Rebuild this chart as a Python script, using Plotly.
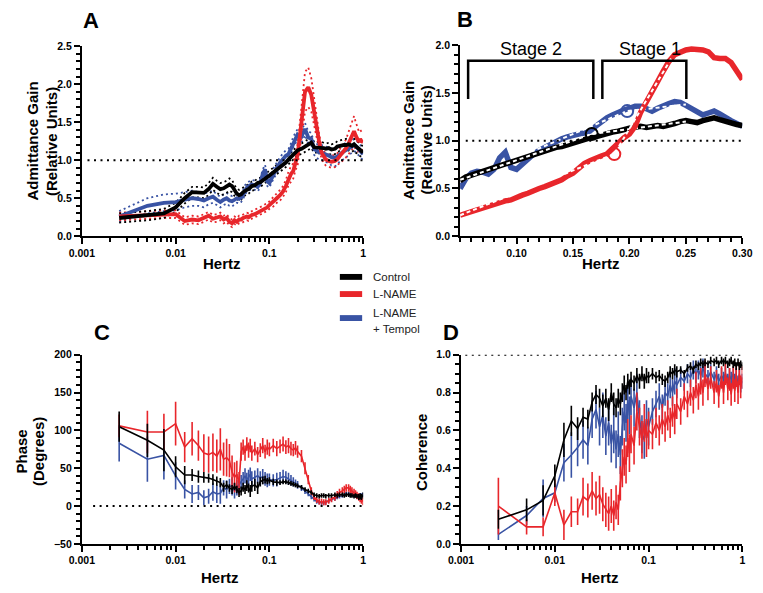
import plotly.graph_objects as go

# ---------------- data ----------------
FREQ = [0.0025, 0.005, 0.0075, 0.01, 0.0125, 0.015, 0.0175, 0.02, 0.0225, 0.025, 0.0275, 0.03, 0.0325, 0.035, 0.0375, 0.04, 0.0425, 0.045, 0.0475, 0.05,
        0.0525, 0.055, 0.0575, 0.06, 0.0625, 0.065, 0.07, 0.075, 0.08, 0.085, 0.09, 0.095, 0.1,
        0.11, 0.12, 0.13, 0.14, 0.15, 0.16, 0.17, 0.18, 0.19, 0.2,
        0.22, 0.24, 0.26, 0.28, 0.3, 0.32, 0.34, 0.36, 0.38, 0.4,
        0.43, 0.46, 0.5, 0.53, 0.56, 0.6, 0.63, 0.66, 0.7, 0.73, 0.76, 0.8, 0.83, 0.86, 0.9, 0.93, 0.96, 1.0]

# Panel A: admittance gain (mean, SEM)
CTRL_GAIN = [0.24, 0.27, 0.30, 0.38, 0.50, 0.58, 0.58, 0.57, 0.62, 0.69, 0.65, 0.62, 0.63, 0.65, 0.68, 0.66, 0.60, 0.56, 0.54, 0.55,
             0.58, 0.60, 0.61, 0.62, 0.64, 0.66, 0.67, 0.70, 0.71, 0.74, 0.76, 0.78, 0.80,
             0.84, 0.87, 0.91, 0.94, 0.97, 1.01, 1.04, 1.07, 1.10, 1.13,
             1.15, 1.18, 1.20, 1.23, 1.17, 1.17, 1.16, 1.17, 1.16, 1.15,
             1.16, 1.14, 1.15, 1.18, 1.19, 1.19, 1.20, 1.20, 1.21, 1.20, 1.19, 1.21, 1.18, 1.17, 1.15, 1.13, 1.12, 1.10]
CTRL_GAIN_SEM = [0.06, 0.06, 0.06, 0.06, 0.07, 0.07, 0.07, 0.07, 0.08, 0.08, 0.08, 0.08, 0.08, 0.08, 0.08, 0.08, 0.07, 0.07, 0.07, 0.07,
                 0.06, 0.06, 0.06, 0.06, 0.06, 0.06, 0.06, 0.06, 0.06, 0.06, 0.06, 0.06, 0.06,
                 0.06, 0.06, 0.06, 0.06, 0.06, 0.06, 0.06, 0.06, 0.06, 0.06,
                 0.07, 0.07, 0.07, 0.07, 0.07, 0.07, 0.07, 0.07, 0.07, 0.07,
                 0.07, 0.07, 0.07, 0.07, 0.07, 0.08, 0.08, 0.08, 0.08, 0.08, 0.08, 0.08, 0.08, 0.08, 0.08, 0.08, 0.08, 0.08]
TEMPOL_GAIN = [0.26, 0.40, 0.44, 0.45, 0.48, 0.50, 0.49, 0.47, 0.50, 0.52, 0.48, 0.45, 0.48, 0.50, 0.47, 0.46, 0.48, 0.50, 0.49, 0.51,
               0.55, 0.61, 0.64, 0.66, 0.67, 0.68, 0.67, 0.65, 0.70, 0.82, 0.88, 0.72, 0.70,
               0.82, 0.90, 0.97, 1.02, 1.06, 1.08, 1.15, 1.24, 1.30, 1.34,
               1.31, 1.41, 1.30, 1.28, 1.15, 1.12, 1.10, 1.10, 1.09, 1.08,
               1.06, 1.04, 1.03, 1.05, 1.08, 1.10, 1.12, 1.14, 1.16, 1.17, 1.18, 1.20, 1.19, 1.17, 1.14, 1.12, 1.10, 1.08]
TEMPOL_GAIN_SEM = [0.07, 0.10, 0.11, 0.11, 0.10, 0.10, 0.09, 0.09, 0.08, 0.08, 0.07, 0.07, 0.07, 0.07, 0.07, 0.07, 0.06, 0.06, 0.06, 0.06,
                   0.06, 0.06, 0.06, 0.06, 0.06, 0.06, 0.06, 0.06, 0.06, 0.06, 0.06, 0.06, 0.06,
                   0.07, 0.07, 0.07, 0.07, 0.07, 0.07, 0.07, 0.07, 0.07, 0.07,
                   0.08, 0.08, 0.08, 0.08, 0.08, 0.09, 0.10, 0.10, 0.10, 0.10,
                   0.10, 0.11, 0.11, 0.11, 0.10, 0.10, 0.10, 0.09, 0.09, 0.09, 0.08, 0.08, 0.08, 0.08, 0.08, 0.08, 0.08, 0.08]
LNAME_GAIN = [0.26, 0.28, 0.29, 0.29, 0.20, 0.22, 0.21, 0.24, 0.27, 0.23, 0.24, 0.26, 0.22, 0.24, 0.19, 0.17, 0.21, 0.19, 0.22, 0.22,
              0.24, 0.25, 0.26, 0.25, 0.27, 0.28, 0.29, 0.31, 0.33, 0.35, 0.37, 0.38, 0.41,
              0.45, 0.50, 0.54, 0.59, 0.66, 0.76, 0.82, 0.86, 0.99, 1.07,
              1.50, 1.90, 1.96, 1.86, 1.64, 1.42, 1.24, 1.10, 1.04, 1.01,
              0.99, 0.98, 0.99, 1.01, 1.05, 1.09, 1.12, 1.16, 1.22, 1.28, 1.32, 1.38, 1.33, 1.30, 1.24, 1.28, 1.25, 1.24]
LNAME_GAIN_SEM = [0.05, 0.05, 0.05, 0.05, 0.05, 0.05, 0.05, 0.05, 0.05, 0.05, 0.05, 0.05, 0.05, 0.05, 0.05, 0.05, 0.05, 0.05, 0.05, 0.05,
                  0.05, 0.05, 0.05, 0.05, 0.05, 0.05, 0.05, 0.05, 0.05, 0.05, 0.05, 0.05, 0.05,
                  0.06, 0.06, 0.07, 0.07, 0.08, 0.09, 0.10, 0.10, 0.12, 0.14,
                  0.20, 0.26, 0.26, 0.22, 0.18, 0.14, 0.10, 0.08, 0.08, 0.08,
                  0.08, 0.08, 0.08, 0.08, 0.09, 0.10, 0.11, 0.12, 0.14, 0.16, 0.18, 0.20, 0.18, 0.16, 0.14, 0.12, 0.12, 0.10]

# Panel B: admittance gain, linear zoom 0.05-0.30 Hz
FREQ_B = [0.050, 0.055, 0.060, 0.065, 0.070, 0.075, 0.080, 0.085, 0.090, 0.095,
          0.100, 0.105, 0.110, 0.115, 0.120, 0.125, 0.130, 0.135, 0.140, 0.145,
          0.150, 0.155, 0.160, 0.165, 0.170, 0.175, 0.180, 0.185, 0.190, 0.195,
          0.200, 0.205, 0.210, 0.215, 0.220, 0.225, 0.230, 0.235, 0.240, 0.245,
          0.250, 0.255, 0.260, 0.265, 0.270, 0.275, 0.280, 0.285, 0.290, 0.295, 0.300]
CTRL_B = [0.58, 0.62, 0.64, 0.66, 0.67, 0.70, 0.71, 0.74, 0.76, 0.78,
          0.80, 0.81, 0.84, 0.86, 0.87, 0.89, 0.91, 0.93, 0.94, 0.96,
          0.97, 0.99, 1.01, 1.03, 1.04, 1.06, 1.07, 1.09, 1.10, 1.12,
          1.13, 1.14, 1.15, 1.14, 1.15, 1.16, 1.15, 1.16, 1.18, 1.20,
          1.21, 1.20, 1.19, 1.21, 1.23, 1.24, 1.22, 1.20, 1.19, 1.17, 1.16]
TEMPOL_B = [0.50, 0.60, 0.66, 0.68, 0.67, 0.65, 0.70, 0.82, 0.88, 0.72,
            0.70, 0.76, 0.82, 0.86, 0.90, 0.93, 0.97, 1.00, 1.02, 1.04,
            1.06, 1.07, 1.08, 1.10, 1.15, 1.20, 1.24, 1.27, 1.30, 1.32,
            1.34, 1.36, 1.36, 1.33, 1.31, 1.34, 1.37, 1.39, 1.41, 1.40,
            1.37, 1.34, 1.30, 1.27, 1.29, 1.31, 1.28, 1.24, 1.21, 1.18, 1.15]
LNAME_B = [0.22, 0.24, 0.25, 0.27, 0.29, 0.31, 0.33, 0.35, 0.37, 0.38,
           0.41, 0.43, 0.45, 0.48, 0.50, 0.52, 0.54, 0.56, 0.59, 0.63,
           0.66, 0.71, 0.76, 0.79, 0.82, 0.84, 0.86, 0.92, 0.99, 1.03,
           1.07, 1.15, 1.30, 1.40, 1.50, 1.62, 1.73, 1.83, 1.90, 1.93,
           1.95, 1.96, 1.96, 1.95, 1.93, 1.87, 1.86, 1.86, 1.82, 1.73, 1.64]
# two-stage linear fits (start, breakpoint, end)
CTRL_FIT_X = [0.05, 0.1666, 0.25]
CTRL_FIT_Y = [0.59, 1.07, 1.20]
TEMPOL_FIT_X = [0.05, 0.198, 0.25]
TEMPOL_FIT_Y = [0.57, 1.31, 1.38]
LNAME_FIT_X = [0.05, 0.1866, 0.237]
LNAME_FIT_Y = [0.22, 0.86, 1.86]
STAGES = ["Stage 2", "Stage 1"]
STAGE_X0 = [0.0571, 0.176]
STAGE_X1 = [0.168, 0.2504]

# Panel C: phase (degrees, mean +/- SEM)
CTRL_PHASE = [105, 87, 74, 52, 41, 41, 39, 38, 37, 35, 33, 31, 25, 28, 24, 22, 26, 22, 18, 20,
              25, 22, 27, 24, 20, 26, 28, 24, 32, 34, 35, 33, 34,
              32, 31, 31, 32, 32, 31, 30, 29, 28, 27,
              25, 22, 20, 18, 15, 14, 13, 14, 14, 13,
              14, 14, 15, 14, 15, 15, 14, 15, 15, 14, 14, 13, 14, 13, 12, 13, 12, 14]
CTRL_PHASE_ERR = [20, 22, 28, 14, 12, 8, 8, 7, 6, 7, 6, 6, 6, 5, 5, 6, 5, 5, 6, 6,
                  6, 6, 7, 6, 8, 7, 8, 8, 6, 5, 5, 4, 4,
                  4, 4, 3, 3, 3, 3, 3, 3, 3, 3,
                  3, 3, 3, 3, 3, 3, 3, 3, 3, 3,
                  3, 3, 3, 3, 3, 3, 3, 3, 3, 3, 3, 3, 3, 3, 4, 4, 4, 4]
LNAME_PHASE = [106, 98, 98, 109, 78, 89, 80, 70, 68, 71, 66, 75, 62, 64, 60, 45, 38, 42, 30, 72,
               78, 70, 82, 74, 80, 70, 76, 68, 74, 80, 72, 78, 75,
               80, 76, 79, 82, 78, 80, 76, 74, 77, 72,
               66, 50, 35, 20, 12, 8, 6, 6, 5, 5,
               7, 9, 12, 15, 18, 20, 22, 24, 24, 22, 20, 18, 16, 14, 12, 10, 8, 6]
LNAME_PHASE_ERR = [15, 28, 24, 29, 20, 22, 20, 25, 24, 25, 22, 28, 22, 25, 22, 22, 20, 18, 15, 12,
                   10, 10, 9, 10, 9, 10, 9, 10, 9, 10, 9, 10, 9,
                   9, 10, 9, 10, 9, 10, 9, 8, 9, 8,
                   8, 8, 6, 5, 4, 4, 4, 4, 4, 4,
                   4, 4, 5, 5, 5, 5, 5, 5, 5, 5, 5, 5, 5, 5, 5, 5, 5, 5]
TEMPOL_PHASE = [83, 62, 67, 40, 22, 16, 18, 11, 13, 19, 16, 17, 24, 22, 26, 26, 20, 24, 28, 32,
                36, 40, 35, 38, 42, 36, 38, 40, 37, 39, 36, 34, 35,
                34, 35, 37, 39, 38, 36, 34, 32, 30, 28,
                24, 20, 16, 12, 9, 6, 5, 4, 4, 5,
                7, 9, 10, 12, 13, 14, 15, 16, 16, 15, 15, 14, 14, 13, 13, 14, 14, 15]
TEMPOL_PHASE_ERR = [24, 30, 32, 18, 12, 12, 10, 10, 10, 12, 12, 14, 10, 12, 10, 12, 10, 10, 9, 9,
                    9, 10, 9, 10, 9, 10, 9, 10, 9, 10, 9, 9, 8,
                    8, 9, 8, 9, 8, 8, 7, 6, 5, 5,
                    4, 4, 3, 3, 3, 3, 3, 3, 3, 3,
                    3, 3, 3, 3, 3, 3, 3, 3, 3, 3, 3, 3, 3, 3, 3, 3, 3, 3]

# Panel D: coherence (mean +/- SEM)
CTRL_COH = [0.13, 0.18, 0.23, 0.36, 0.55, 0.65, 0.61, 0.67, 0.66, 0.75, 0.79, 0.77, 0.73, 0.77, 0.71, 0.80, 0.74, 0.72, 0.77, 0.74,
            0.80, 0.84, 0.80, 0.86, 0.83, 0.87, 0.85, 0.89, 0.86, 0.90, 0.86, 0.89, 0.88,
            0.90, 0.88, 0.89, 0.87, 0.86, 0.88, 0.91, 0.90, 0.92, 0.91,
            0.92, 0.90, 0.93, 0.94, 0.92, 0.95, 0.94, 0.96, 0.95, 0.96,
            0.95, 0.97, 0.96, 0.97, 0.95, 0.97, 0.96, 0.97, 0.95, 0.96, 0.97, 0.95, 0.96, 0.94, 0.96, 0.94, 0.95, 0.94]
CTRL_COH_ERR = [0.05, 0.06, 0.08, 0.06, 0.09, 0.08, 0.06, 0.05, 0.05, 0.05, 0.05, 0.05, 0.06, 0.05, 0.06, 0.05, 0.06, 0.05, 0.05, 0.06,
                0.05, 0.05, 0.04, 0.04, 0.04, 0.04, 0.04, 0.04, 0.04, 0.04, 0.04, 0.04, 0.03,
                0.03, 0.03, 0.03, 0.03, 0.03, 0.03, 0.03, 0.03, 0.03, 0.03,
                0.02, 0.02, 0.02, 0.02, 0.02, 0.02, 0.02, 0.02, 0.02, 0.02,
                0.02, 0.02, 0.02, 0.02, 0.02, 0.02, 0.02, 0.02, 0.02, 0.02, 0.02, 0.02, 0.02, 0.02, 0.02, 0.02, 0.02, 0.02]
TEMPOL_COH = [0.05, 0.15, 0.24, 0.27, 0.43, 0.47, 0.51, 0.55, 0.52, 0.66, 0.71, 0.62, 0.68, 0.57, 0.64, 0.53, 0.60, 0.50, 0.58, 0.47,
              0.62, 0.70, 0.64, 0.76, 0.68, 0.78, 0.72, 0.80, 0.66, 0.58, 0.55, 0.66, 0.62,
              0.70, 0.74, 0.78, 0.72, 0.80, 0.78, 0.84, 0.80, 0.86, 0.84,
              0.88, 0.86, 0.90, 0.88, 0.92, 0.90, 0.92, 0.89, 0.93, 0.90,
              0.88, 0.91, 0.87, 0.90, 0.86, 0.89, 0.87, 0.90, 0.86, 0.89, 0.87, 0.90, 0.86, 0.89, 0.85, 0.88, 0.84, 0.86]
TEMPOL_COH_ERR = [0.03, 0.05, 0.10, 0.05, 0.10, 0.12, 0.10, 0.10, 0.10, 0.10, 0.10, 0.10, 0.12, 0.10, 0.12, 0.10, 0.12, 0.10, 0.12, 0.10,
                  0.10, 0.10, 0.10, 0.10, 0.10, 0.10, 0.10, 0.10, 0.10, 0.10, 0.10, 0.10, 0.10,
                  0.07, 0.07, 0.07, 0.07, 0.07, 0.07, 0.07, 0.07, 0.07, 0.07,
                  0.05, 0.05, 0.05, 0.05, 0.05, 0.05, 0.05, 0.05, 0.05, 0.05,
                  0.04, 0.04, 0.04, 0.04, 0.04, 0.04, 0.04, 0.04, 0.04, 0.04, 0.04, 0.04, 0.04, 0.04, 0.04, 0.04, 0.04, 0.04]
LNAME_COH = [0.20, 0.09, 0.09, 0.27, 0.10, 0.17, 0.17, 0.25, 0.23, 0.28, 0.24, 0.26, 0.21, 0.18, 0.16, 0.20, 0.15, 0.22, 0.18, 0.32,
             0.40, 0.46, 0.42, 0.56, 0.48, 0.58, 0.52, 0.70, 0.62, 0.55, 0.64, 0.56, 0.60,
             0.58, 0.64, 0.60, 0.66, 0.62, 0.68, 0.64, 0.70, 0.66, 0.74,
             0.70, 0.78, 0.74, 0.80, 0.76, 0.84, 0.78, 0.86, 0.80, 0.90,
             0.82, 0.88, 0.80, 0.86, 0.78, 0.88, 0.80, 0.90, 0.82, 0.87, 0.79, 0.88, 0.81, 0.89, 0.80, 0.90, 0.83, 0.88]
LNAME_COH_ERR = [0.15, 0.04, 0.05, 0.07, 0.08, 0.08, 0.07, 0.10, 0.09, 0.10, 0.09, 0.10, 0.09, 0.09, 0.09, 0.09, 0.08, 0.09, 0.08, 0.09,
                 0.10, 0.10, 0.10, 0.10, 0.10, 0.10, 0.10, 0.10, 0.10, 0.10, 0.10, 0.10, 0.10,
                 0.08, 0.08, 0.08, 0.08, 0.08, 0.08, 0.08, 0.08, 0.08, 0.08,
                 0.07, 0.07, 0.07, 0.07, 0.07, 0.07, 0.07, 0.07, 0.07, 0.07,
                 0.06, 0.06, 0.06, 0.06, 0.06, 0.06, 0.06, 0.06, 0.06, 0.06, 0.06, 0.06, 0.06, 0.06, 0.06, 0.06, 0.06, 0.06]

LOG_TICKS = [0.001, 0.01, 0.1, 1]
LOG_TICKTEXT = ["0.001", "0.01", "0.1", "1"]
B_TICKS = [0.10, 0.15, 0.20, 0.25, 0.30]
B_TICKTEXT = ["0.10", "0.15", "0.20", "0.25", "0.30"]
GROUPS = ["Control", "L-NAME", "L-NAME", "+ Tempol"]

for arr in [CTRL_GAIN, CTRL_GAIN_SEM, TEMPOL_GAIN, TEMPOL_GAIN_SEM, LNAME_GAIN, LNAME_GAIN_SEM,
            CTRL_PHASE, CTRL_PHASE_ERR, LNAME_PHASE, LNAME_PHASE_ERR, TEMPOL_PHASE, TEMPOL_PHASE_ERR,
            CTRL_COH, CTRL_COH_ERR, TEMPOL_COH, TEMPOL_COH_ERR, LNAME_COH, LNAME_COH_ERR]:
    assert len(arr) == len(FREQ), len(arr)
for arr in [CTRL_B, TEMPOL_B, LNAME_B]:
    assert len(arr) == len(FREQ_B)

# ---------------- style ----------------
W, H = 763, 593
BLACK = "#000000"
RED = "#E8262B"
BLUE = "#3953A4"
FONT = "Arial, Liberation Sans, Helvetica, sans-serif"


def PX(x):
    return x / W


def PY(y):
    return 1 - y / H


fig = go.Figure()


def line_trace(x, y, color, width, xa, ya, dash=None):
    fig.add_trace(go.Scatter(x=x, y=y, mode="lines", xaxis=xa, yaxis=ya,
                             line=dict(color=color, width=width, dash=dash),
                             showlegend=False, hoverinfo="skip"))


# Panel A
for mean, sem, col in [(TEMPOL_GAIN, TEMPOL_GAIN_SEM, BLUE), (LNAME_GAIN, LNAME_GAIN_SEM, RED),
                       (CTRL_GAIN, CTRL_GAIN_SEM, BLACK)]:
    up = [m + s for m, s in zip(mean, sem)]
    lo = [m - s for m, s in zip(mean, sem)]
    line_trace(FREQ, up, col, 1.8, "x", "y", dash="2px,3px")
    line_trace(FREQ, lo, col, 1.8, "x", "y", dash="2px,3px")
for mean, col in [(TEMPOL_GAIN, BLUE), (LNAME_GAIN, RED), (CTRL_GAIN, BLACK)]:
    line_trace(FREQ, mean, col, 3.8, "x", "y")

# Panel B
for yv, col, fx, fy in [(TEMPOL_B, BLUE, TEMPOL_FIT_X, TEMPOL_FIT_Y),
                        (CTRL_B, BLACK, CTRL_FIT_X, CTRL_FIT_Y),
                        (LNAME_B, RED, LNAME_FIT_X, LNAME_FIT_Y)]:
    line_trace(FREQ_B, yv, col, 5.5, "x2", "y2")
    line_trace(fx, fy, "white", 2, "x2", "y2", dash="4px,3px")
    fig.add_trace(go.Scatter(x=[fx[1]], y=[fy[1]], mode="markers", xaxis="x2", yaxis="y2",
                             marker=dict(symbol="circle-open", size=12, color=col, line=dict(width=2, color=col)),
                             showlegend=False, hoverinfo="skip"))

# Panels C and D
for (xa, ya, series) in [("x3", "y3", [(TEMPOL_PHASE, TEMPOL_PHASE_ERR, BLUE), (LNAME_PHASE, LNAME_PHASE_ERR, RED),
                                       (CTRL_PHASE, CTRL_PHASE_ERR, BLACK)]),
                         ("x4", "y4", [(TEMPOL_COH, TEMPOL_COH_ERR, BLUE), (LNAME_COH, LNAME_COH_ERR, RED),
                                       (CTRL_COH, CTRL_COH_ERR, BLACK)])]:
    for mean, err, col in series:
        fig.add_trace(go.Scatter(x=FREQ, y=mean, mode="lines", xaxis=xa, yaxis=ya,
                                 line=dict(color=col, width=1.6),
                                 error_y=dict(type="data", array=err, color=col, thickness=1.6, width=0),
                                 showlegend=False, hoverinfo="skip"))

TICKFONT = dict(family=FONT, size=10.5, color="black", weight="bold")
MINOR_LOG = [k * 10 ** e for e in (-3, -2, -1) for k in range(2, 10)]


def axis(**kw):
    d = dict(showline=True, linecolor="black", linewidth=2, ticks="outside", ticklen=6, tickwidth=2,
             tickcolor="black", showgrid=False, zeroline=False, tickfont=TICKFONT, mirror=False, fixedrange=True)
    d.update(kw)
    return d


def logx(domain, anchor):
    return axis(domain=domain, anchor=anchor, type="log", range=[-3, 0], tickvals=LOG_TICKS, ticktext=LOG_TICKTEXT,
                minor=dict(tickvals=MINOR_LOG, ticks="outside", ticklen=4, tickwidth=1.5, tickcolor="black"))


def liny(domain, anchor, rng, dtick, minor, fmt):
    return axis(domain=domain, anchor=anchor, range=rng, dtick=dtick, tick0=0, tickformat=fmt,
                minor=dict(dtick=minor, tick0=0, ticks="outside", ticklen=4, tickwidth=1.5, tickcolor="black"))


dom_xL = [PX(71), PX(361)]
dom_xR_top = [PX(461), PX(752)]
dom_xR_bot = [PX(462), PX(752)]
dom_y_top = [PY(235), PY(41)]
dom_y_top_b = [PY(235), PY(40)]
dom_y_bot = [PY(549), PY(356)]

fig.update_layout(
    width=W, height=H, margin=dict(l=0, r=0, t=0, b=0),
    paper_bgcolor="white", plot_bgcolor="white", showlegend=False,
    font=dict(family=FONT, color="black"),
    xaxis=logx(dom_xL, "y"),
    yaxis=liny(dom_y_top, "x", [0, 2.5], 0.5, 0.1, ".1f"),
    xaxis2=axis(domain=dom_xR_top, anchor="y2", range=[0.05, 0.30], tickvals=B_TICKS, ticktext=B_TICKTEXT,
                ticklabeloverflow="allow",
                minor=dict(tickvals=[0.05 + 0.01 * i for i in range(26)], ticks="outside", ticklen=4,
                           tickwidth=1.5, tickcolor="black")),
    yaxis2=liny(dom_y_top_b, "x2", [0, 2.0], 0.5, 0.1, ".1f"),
    xaxis3=logx(dom_xL, "y3"),
    yaxis3=liny(dom_y_bot, "x3", [-50, 200], 50, 10, "d"),
    xaxis4=logx(dom_xR_bot, "y4"),
    yaxis4=liny(dom_y_bot, "x4", [0, 1.0], 0.2, 0.05, ".1f"),
)

shapes = []
# dotted reference lines
for xr, yr, yv, x0 in [("x domain", "y", 1.0, 0.02), ("x2 domain", "y2", 1.0, 0.02),
                       ("x3 domain", "y3", 0.0, 0.04), ("x4 domain", "y4", 1.0, 0.015)]:
    shapes.append(dict(type="line", xref=xr, yref=yr, x0=x0, x1=1, y0=yv, y1=yv,
                       line=dict(color="black", width=2, dash="2px,4.5px")))
# stage brackets
for x0, x1 in zip(STAGE_X0, STAGE_X1):
    shapes.append(dict(type="path", xref="x2", yref="y2",
                       path=f"M {x0},1.436 L {x0},1.836 L {x1},1.836 L {x1},1.436",
                       line=dict(color="black", width=2.5)))
# legend swatches
for yc, col in [(276.5, BLACK), (294, RED), (318.5, BLUE)]:
    shapes.append(dict(type="rect", xref="paper", yref="paper", x0=PX(337), x1=PX(360),
                       y0=PY(yc + 3), y1=PY(yc - 3), fillcolor=col, line=dict(width=0)))
fig.update_layout(shapes=shapes)

ann = []


def text(x, y, s, size, bold=False, angle=0, xanchor="center", color="black"):
    ann.append(dict(x=PX(x), y=PY(y), xref="paper", yref="paper", text=s, showarrow=False,
                    xanchor=xanchor, yanchor="middle", textangle=angle,
                    font=dict(family=FONT, size=size, color=color, weight="bold" if bold else "normal")))


def vtext(xc, yc, s):
    text(xc, yc, s, 15, True, angle=-90)


# panel letters
text(80, 15, "A", 22, True)
text(466, 14, "B", 22, True)
text(92, 333, "C", 22, True)
text(452, 333, "D", 22, True)
# axis titles
for x, y in [(216, 263), (606, 263), (213, 583), (605, 583)]:
    text(x, y, "Hertz", 15, True)
vtext(20, 138, "Admittance Gain")
vtext(39, 138, "(Relative Units)")
vtext(408, 137, "Admittance Gain")
vtext(426, 137, "(Relative Units)")
vtext(9, 455, "Phase")
vtext(27, 455, "(Degrees)")
vtext(422, 455, "Coherence")
# stage labels
for s, x0, x1 in zip(STAGES, STAGE_X0, STAGE_X1):
    ann.append(dict(x=(x0 + x1) / 2 + (0.005 if s == "Stage 1" else 0), y=1.965, xref="x2", yref="y2", text=s,
                    showarrow=False, font=dict(family=FONT, size=18, color="black")))
# legend text
for s, yc in zip(GROUPS, [277, 294, 313, 330]):
    text(369, yc, s, 11.5, xanchor="left", color="#222222")
fig.update_layout(annotations=ann)

# remove the browser's default 8px body margin so the 763x593 figure fills the window exactly
fig.write_html("out.html", config={"displayModeBar": False},
               post_script="document.body.style.margin='0px';")
